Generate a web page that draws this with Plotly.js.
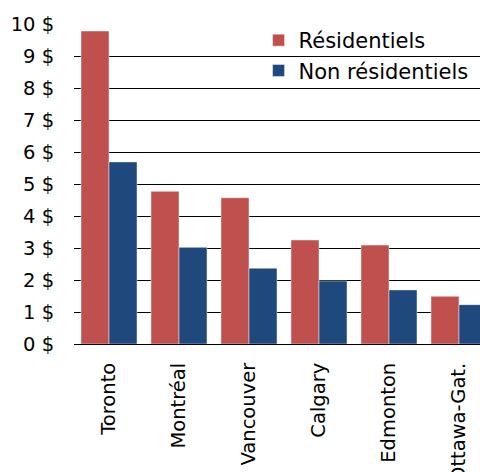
<!DOCTYPE html>
<html>
<head>
<meta charset="utf-8">
<script src="https://cdn.plot.ly/plotly-3.0.1.min.js"></script>
<style>html,body{margin:0;padding:0;overflow:hidden;background:#fff}</style>
</head>
<body>
<div id="chart" style="width:480px;height:472px"></div>
<script>
var categories = ["Toronto", "Montréal", "Vancouver", "Calgary", "Edmonton", "Ottawa-Gat."];
var residentiels = [9.78, 4.77, 4.57, 3.25, 3.09, 1.49];
var nonResidentiels = [5.69, 3.02, 2.37, 1.97, 1.69, 1.23];
var yTicks = [0, 1, 2, 3, 4, 5, 6, 7, 8, 9, 10];

var axisFont = {family: "DejaVu Sans, Verdana, sans-serif", size: 19.5, color: "#000"};
var legendFont = {family: "DejaVu Sans, Verdana, sans-serif", size: 21, color: "#000"};

var traces = [
  {type: "bar", name: "Résidentiels", x: categories, y: residentiels, legendgroup: "a",
   marker: {color: "#C0504D", line: {color: "rgba(255,255,255,0.45)", width: 1}}, cliponaxis: true},
  {type: "bar", name: "Non résidentiels", x: categories, y: nonResidentiels, legendgroup: "b",
   marker: {color: "#1F497D", line: {color: "rgba(255,255,255,0.45)", width: 1}}, cliponaxis: true}
];

var layout = {
  width: 480, height: 472,
  margin: {l: 74, r: 0, t: 24, b: 128, pad: 0},
  paper_bgcolor: "#fff", plot_bgcolor: "#fff",
  font: axisFont,
  barmode: "group", bargap: 0.2, bargroupgap: 0,
  showlegend: true,
  legend: {x: 0.4546, y: 1.0125, xanchor: "left", yanchor: "top", bgcolor: "rgba(0,0,0,0)",
           font: legendFont, tracegroupgap: 4, traceorder: "normal"},
  xaxis: {type: "category", range: [-0.5, 5.3], tickangle: -90, showgrid: false,
          showline: false, zeroline: false, ticks: "outside", ticklen: 10,
          tickcolor: "rgba(0,0,0,0)", tickfont: axisFont, fixedrange: true},
  yaxis: {range: [0, 10], tickvals: yTicks, ticktext: yTicks.map(function(v){return v + " $";}),
          showgrid: true, gridcolor: "#000", gridwidth: 1, zeroline: true, zerolinecolor: "#000",
          zerolinewidth: 1, showline: false, ticks: "outside", ticklen: 15,
          tickcolor: "rgba(0,0,0,0)", tickfont: axisFont, fixedrange: true}
};

Plotly.newPlot("chart", traces, layout, {staticPlot: true, displayModeBar: false});
</script>
</body>
</html>
